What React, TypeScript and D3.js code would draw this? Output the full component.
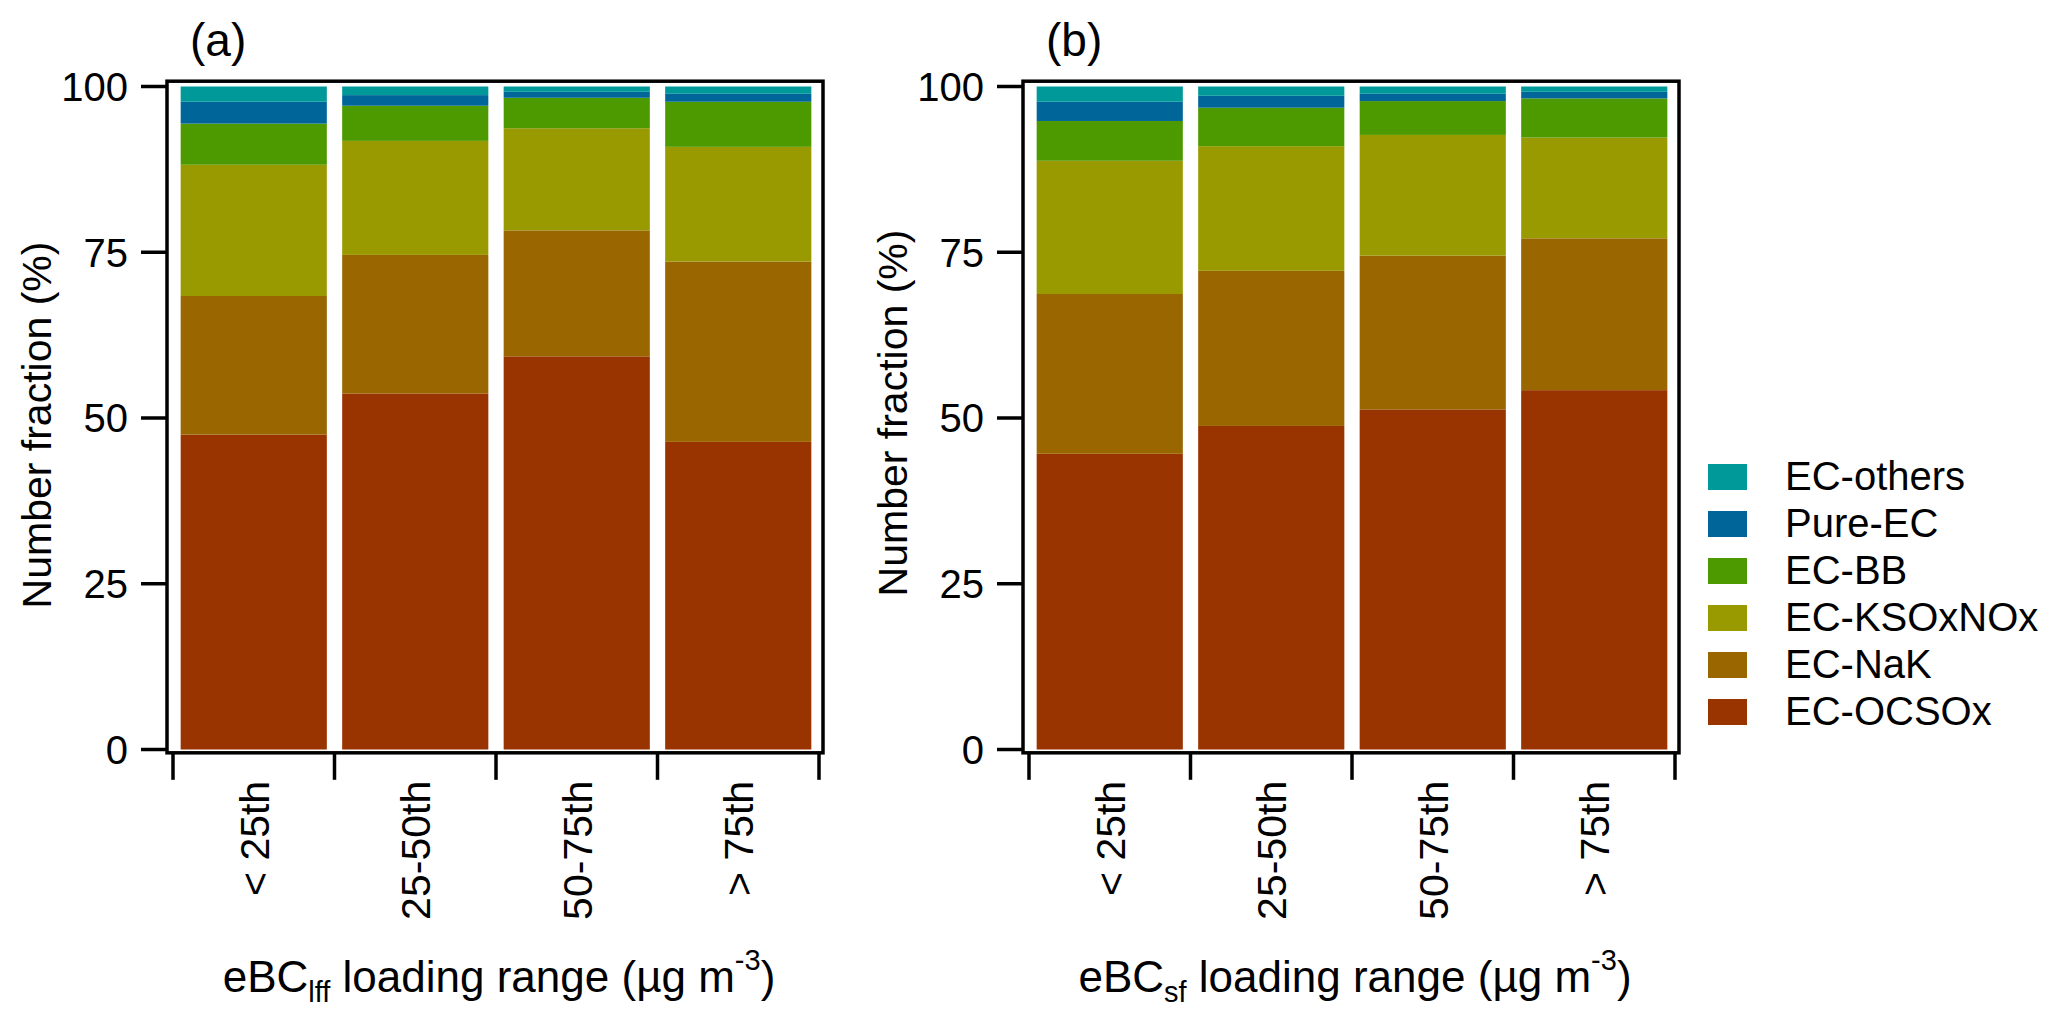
import { useRef, useEffect } from 'react';
import * as d3 from 'd3';

// stacking order, bottom to top
const species = ['EC-OCSOx', 'EC-NaK', 'EC-KSOxNOx', 'EC-BB', 'Pure-EC', 'EC-others'];
const speciesColors = ['#993300', '#996600', '#999900', '#4c9900', '#006699', '#009999'];
const categories = ['< 25th', '25-50th', '50-75th', '> 75th'];
const yTicks = [0, 25, 50, 75, 100];

// number fraction (%) per species, one value per loading range
const lffFractions = [
  [47.5, 53.7, 59.3, 46.4], // EC-OCSOx
  [20.9, 20.9, 19.0, 27.2], // EC-NaK
  [19.8, 17.2, 15.4, 17.3], // EC-KSOxNOx
  [6.2, 5.3, 4.6, 6.8], // EC-BB
  [3.3, 1.6, 0.9, 1.2], // Pure-EC
  [2.3, 1.3, 0.8, 1.1], // EC-others
];
const sfFractions = [
  [44.6, 48.8, 51.3, 54.2],
  [24.1, 23.4, 23.2, 22.9],
  [20.1, 18.8, 18.2, 15.2],
  [6.0, 5.8, 5.1, 5.9],
  [2.9, 1.8, 1.1, 1.0],
  [2.3, 1.4, 1.1, 0.8],
];

const W = 2067;
const H = 1016;
const FONT = '"Liberation Sans", Arial, sans-serif';

export default function App() {
  const svgRef = useRef<SVGSVGElement>(null);

  useEffect(() => {
    if (!svgRef.current) return;
    const svg = d3.select(svgRef.current);
    svg.selectAll('*').remove();
    svg.attr('font-family', FONT);

    const panels = [
      { label: '(a)', sub: 'lff', data: lffFractions, left: 167, titleShift: 8 },
      { label: '(b)', sub: 'sf', data: sfFractions, left: 1023, titleShift: -4 },
    ];

    const y = d3.scaleLinear().domain([0, 100]).range([749.5, 86.5]);
    const frameTop = y(100.8);
    const frameBottom = y(-0.5);

    panels.forEach((p) => {
      const frameLeft = p.left;
      const frameRight = p.left + 656;
      const x0 = frameLeft + 6;
      const x1 = frameRight - 4;
      const x = d3.scaleBand<string>().domain(categories).range([x0, x1])
        .paddingInner(0.095).paddingOuter(0.0475);
      const edges = d3.scaleLinear().domain([0, categories.length]).range([x0, x1]);

      const g = svg.append('g');

      // stacked bars
      const rows = categories.map((c, i) => {
        const r: any = { cat: c };
        species.forEach((s, k) => { r[s] = p.data[k][i]; });
        return r;
      });
      const stack = d3.stack<any>().keys(species)(rows);
      stack.forEach((layer, k) => {
        g.append('g')
          .attr('fill', speciesColors[k])
          .selectAll('rect')
          .data(layer)
          .join('rect')
          .attr('x', (d: any) => x(d.data.cat) as number)
          .attr('width', x.bandwidth())
          .attr('y', (d: any) => y(d[1]))
          .attr('height', (d: any) => y(d[0]) - y(d[1]));
      });

      // frame
      g.append('rect')
        .attr('x', frameLeft)
        .attr('y', frameTop)
        .attr('width', frameRight - frameLeft)
        .attr('height', frameBottom - frameTop)
        .attr('fill', 'none')
        .attr('stroke', '#000')
        .attr('stroke-width', 3.5);

      // y ticks + labels
      yTicks.forEach((t) => {
        g.append('line')
          .attr('x1', frameLeft - 26).attr('x2', frameLeft)
          .attr('y1', y(t)).attr('y2', y(t))
          .attr('stroke', '#000').attr('stroke-width', 3.5);
        g.append('text')
          .attr('x', frameLeft - 39)
          .attr('y', y(t))
          .attr('dy', '0.36em')
          .attr('text-anchor', 'end')
          .attr('font-size', 40)
          .text(t);
      });

      // x ticks at category edges
      d3.range(categories.length + 1).forEach((i) => {
        g.append('line')
          .attr('x1', edges(i)).attr('x2', edges(i))
          .attr('y1', frameBottom).attr('y2', frameBottom + 27)
          .attr('stroke', '#000').attr('stroke-width', 3.5);
      });

      categories.forEach((c) => {
        const cx = (x(c) as number) + x.bandwidth() / 2;
        g.append('text')
          .attr('transform', `translate(${cx},${frameBottom + 28}) rotate(-90)`)
          .attr('text-anchor', 'end')
          .attr('dy', '0.36em')
          .attr('font-size', 41)
          .text(c);
      });

      // y title
      g.append('text')
        .attr('transform', `translate(${frameLeft - 131},${(frameTop + frameBottom) / 2 + p.titleShift}) rotate(-90)`)
        .attr('text-anchor', 'middle')
        .attr('dy', '0.36em')
        .attr('font-size', 41)
        .text('Number fraction (%)');

      // x title with sub/superscript
      const xt = g.append('text')
        .attr('x', (frameLeft + frameRight) / 2 + 4)
        .attr('y', 992)
        .attr('text-anchor', 'middle')
        .attr('font-size', 44);
      xt.append('tspan').text('eBC');
      xt.append('tspan').attr('font-size', 29).attr('dy', 10).text(p.sub);
      xt.append('tspan').attr('dy', -10).text(' loading range (µg m');
      xt.append('tspan').attr('font-size', 29).attr('dy', -22).text('-3');
      xt.append('tspan').attr('dy', 22).text(')');

      // panel label
      g.append('text')
        .attr('x', frameLeft + 23)
        .attr('y', 56)
        .attr('font-size', 46)
        .text(p.label);
    });

    // legend, top entry first
    const legendItems = species.map((s, k) => ({ name: s, color: speciesColors[k] })).reverse();
    const lg = svg.append('g').attr('transform', 'translate(1708,464)');
    legendItems.forEach((item, i) => {
      lg.append('rect')
        .attr('x', 0).attr('y', i * 47)
        .attr('width', 39).attr('height', 26)
        .attr('fill', item.color);
      lg.append('text')
        .attr('x', 77).attr('y', i * 47 + 26)
        .attr('font-size', 40)
        .text(item.name);
    });
  }, []);

  return (
    <div style={{ position: 'absolute', left: 0, top: 0, background: '#fff' }}>
      <svg ref={svgRef} width={W} height={H} />
    </div>
  );
}
